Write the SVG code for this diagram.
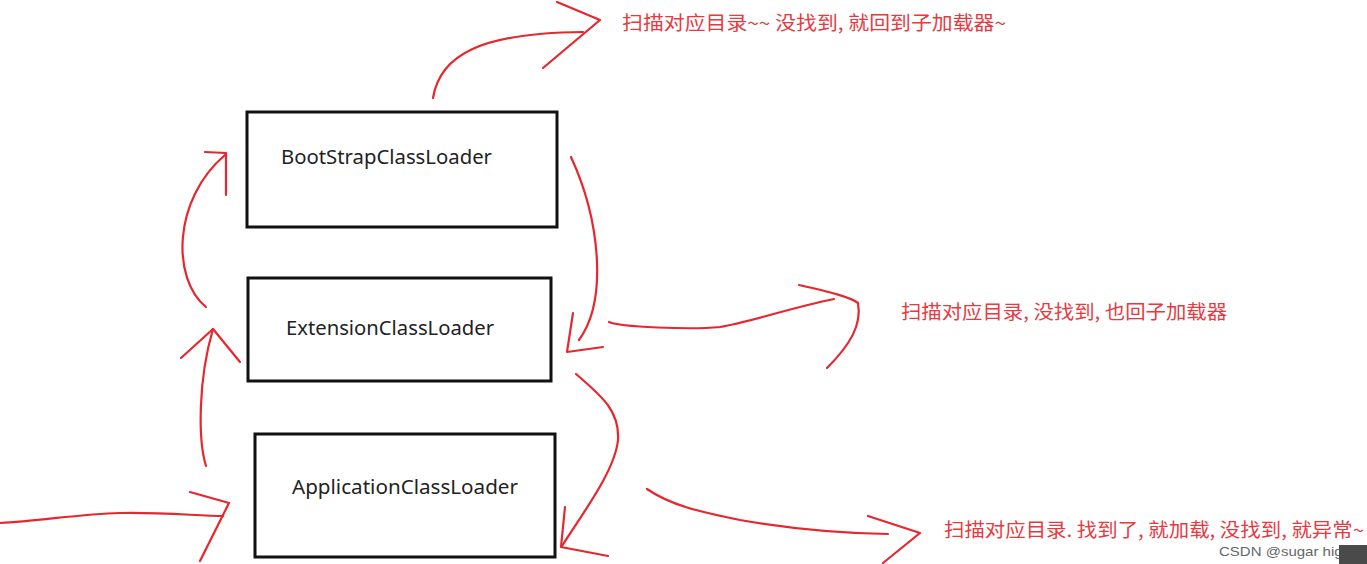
<svg xmlns="http://www.w3.org/2000/svg" width="1367" height="564" viewBox="0 0 1367 564">
<style>
.box{fill:#fff;stroke:#111;stroke-width:3}
.lbl{font-family:"Noto Sans","Open Sans","DejaVu Sans",sans-serif;font-size:20px;fill:#222}
.red{fill:none;stroke:#e8262e;stroke-width:2.2;stroke-linecap:round;stroke-linejoin:round}
.note{font-family:"Noto Sans CJK SC","Noto Sans",sans-serif;font-size:19px;fill:#e8393f}
.wm{font-family:"Liberation Sans","DejaVu Sans",sans-serif;font-size:13px;fill:#666}
</style>
<rect width="1367" height="564" fill="#fff"/>
<g id="boot">
<rect class="box" x="247" y="112" width="310" height="115"/>
<text class="lbl" x="281" y="164" textLength="211" lengthAdjust="spacingAndGlyphs">BootStrapClassLoader</text>
</g>
<g id="ext">
<rect class="box" x="248" y="278" width="303" height="103"/>
<text class="lbl" x="286" y="335" textLength="208" lengthAdjust="spacingAndGlyphs">ExtensionClassLoader</text>
</g>
<g id="app">
<rect class="box" x="255" y="434" width="300" height="123"/>
<text class="lbl" x="292" y="494" textLength="226" lengthAdjust="spacingAndGlyphs">ApplicationClassLoader</text>
</g>
<g id="connectors">
<path class="red" d="M0,523 C40,521 80,514 120,513 C160,512 200,516 223,516"/>
<polyline class="red" points="190,492 229,503 200,561"/>
<path class="red" d="M206,466 C198,440 198,380 213,329"/>
<polyline class="red" points="181,358 213,329 240,362"/>
<path class="red" d="M206,307 C172,280 172,200 225,155"/>
<polyline class="red" points="205,152 226,153 226,195"/>
<path class="red" d="M433,98 C440,55 480,33 583,32"/>
<polyline class="red" points="557,2 600,20 543,68"/>
<path class="red" d="M571,157 C600,220 608,300 579,340"/>
<polyline class="red" points="573,313 567,352 603,347"/>
<path class="red" d="M609,322 C620,327 690,330 720,327 C750,322 790,308 834,299"/>
<path class="red" d="M799,285 C830,292 850,297 858,303 C862,325 850,345 827,368"/>
<path class="red" d="M576,374 C600,395 620,410 618,440 C615,470 585,510 562,546"/>
<polyline class="red" points="565,507 561,547 608,556"/>
<path class="red" d="M647,489 C670,505 700,512 740,520 C780,527 830,533 888,534"/>
<polyline class="red" points="868,516 920,533 883,563"/>
</g>
<g id="notes">
<text class="note" x="622" y="30" textLength="384" lengthAdjust="spacingAndGlyphs">扫描对应目录~~ 没找到, 就回到子加载器~</text>
<text class="note" x="901" y="319" textLength="326" lengthAdjust="spacingAndGlyphs">扫描对应目录, 没找到, 也回子加载器</text>
<text class="note" x="944" y="537" textLength="420" lengthAdjust="spacingAndGlyphs">扫描对应目录. 找到了, 就加载, 没找到, 就异常~</text>
</g>
<g id="watermark">
<text class="wm" x="1219" y="556" textLength="132" lengthAdjust="spacingAndGlyphs">CSDN @sugar high</text>
<rect x="1339" y="545" width="28" height="19" fill="#4a4a4a"/>
</g>
</svg>
